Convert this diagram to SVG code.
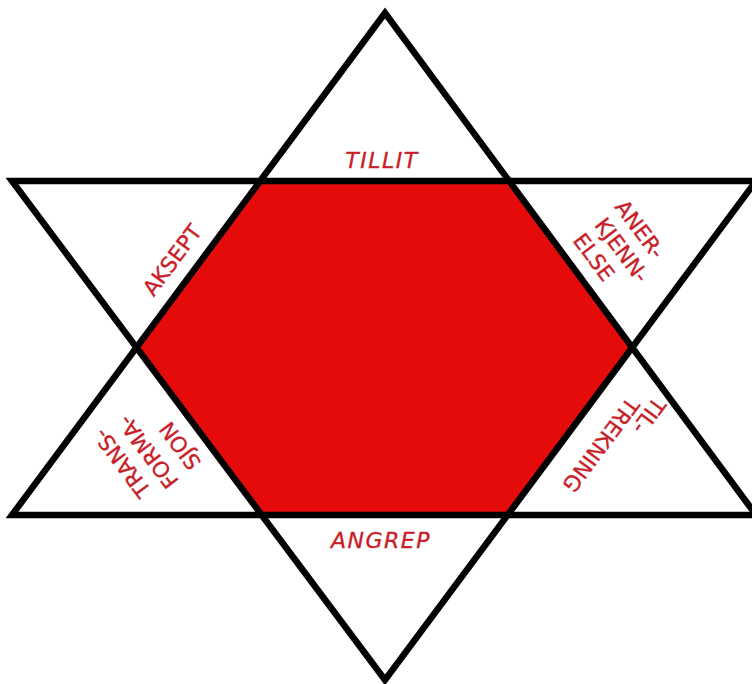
<svg xmlns="http://www.w3.org/2000/svg" width="752" height="684" viewBox="0 0 752 684">
<style>
.tri{fill:none;stroke:#000;stroke-width:6.5;stroke-linejoin:miter;stroke-miterlimit:10}
.lbl{font-family:"DejaVu Sans",Verdana,sans-serif;fill:#c81e28;stroke:#c81e28;stroke-width:0.35;text-anchor:middle}
.h{font-size:22px;font-style:italic;letter-spacing:1.5px}
.r{font-size:21.5px}
</style>
<rect width="752" height="684" fill="#fff"/>
<g id="hexagon">
<polygon points="260.7,181 508.7,181 632.1,347.7 507.7,515 261.6,515 136.6,347.7" fill="#e50b0b"/>
</g>
<g id="connectors">
<polygon class="tri" points="385,13 12,515 756,515"/>
<polygon class="tri" points="12,181 756,181 385,680"/>
</g>
<g id="tillit"><text class="lbl h" x="382" y="168">TILLIT</text></g>
<g id="angrep"><text class="lbl h" x="381" y="548">ANGREP</text></g>
<g id="aksept"><text class="lbl r" transform="translate(172,260) rotate(-53.3)" dy="0.36em">AKSEPT</text></g>
<g id="anerkjennelse">
<text class="lbl r" transform="translate(640,229) rotate(53.3)" dy="0.36em">ANER-</text>
<text class="lbl r" transform="translate(622,250) rotate(53.3)" dy="0.36em">KJENN-</text>
<text class="lbl r" transform="translate(594,257) rotate(53.3)" dy="0.36em">ELSE</text>
</g>
<g id="tiltrekning">
<text class="lbl r" transform="translate(649,416) rotate(126.7)" dy="0.36em">TIL-</text>
<text class="lbl r" transform="translate(601,445) rotate(126.7)" dy="0.36em">TREKNING</text>
</g>
<g id="transformasjon">
<text class="lbl r" transform="translate(122,463) rotate(-126.7)" dy="0.36em">TRANS-</text>
<text class="lbl r" transform="translate(148,452) rotate(-126.7)" dy="0.36em">FORMA-</text>
<text class="lbl r" transform="translate(180,446) rotate(-126.7)" dy="0.36em">SJON</text>
</g>
</svg>
